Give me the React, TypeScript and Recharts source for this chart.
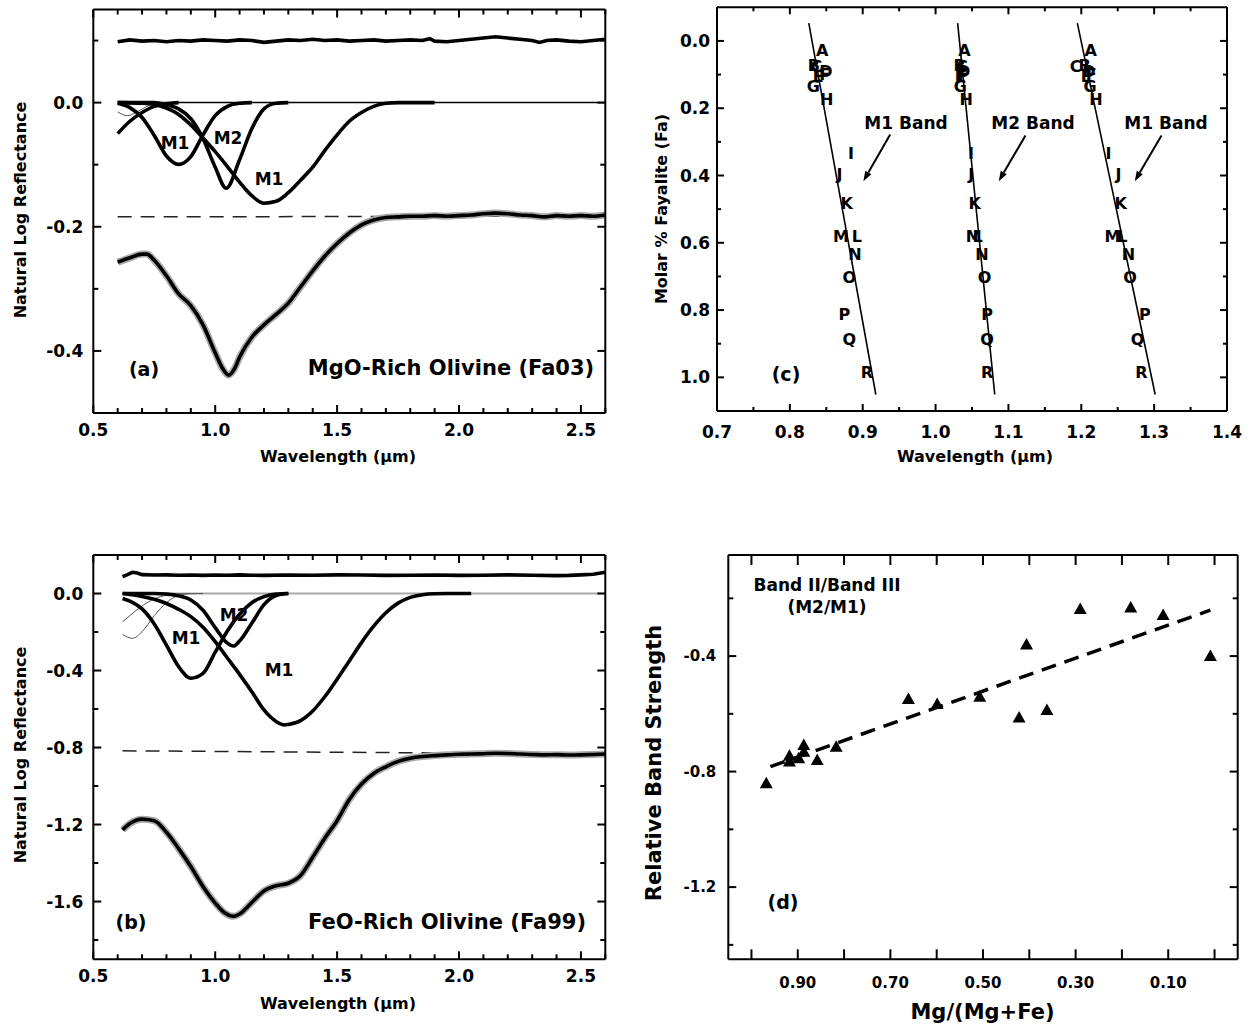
import type { ReactNode } from 'react'
import { ComposedChart, Line, ReferenceLine, Scatter, XAxis, YAxis } from 'recharts'

const FONT = "'DejaVu Sans', 'Liberation Sans', sans-serif"

// ---------- (a) MgO-rich olivine (Fa03) ----------
const aResidWl = [0.6, 0.65, 0.7, 0.75, 0.8, 0.85, 0.9, 0.95, 1.0, 1.05, 1.1, 1.15, 1.2, 1.25, 1.3, 1.35, 1.4, 1.45, 1.5, 1.55, 1.6, 1.65, 1.7, 1.75, 1.8, 1.85, 1.88, 1.9, 1.95, 2.0, 2.05, 2.1, 2.15, 2.2, 2.25, 2.3, 2.33, 2.36, 2.4, 2.45, 2.5, 2.55, 2.6]
const aResidVal = [0.098, 0.101, 0.099, 0.1, 0.098, 0.1, 0.099, 0.101, 0.1, 0.099, 0.101, 0.1, 0.097, 0.099, 0.101, 0.1, 0.102, 0.1, 0.101, 0.099, 0.1, 0.101, 0.099, 0.1, 0.101, 0.1, 0.103, 0.099, 0.098, 0.1, 0.102, 0.104, 0.106, 0.104, 0.102, 0.1, 0.097, 0.1, 0.101, 0.099, 0.098, 0.1, 0.102]
const aContWl = [0.6, 2.6]
const aContVal = [0, 0]
const aBaseVal = [-0.184, -0.183]
const aUvWl = [0.6, 0.65, 0.7, 0.75, 0.8, 0.85]
const aUvVal = [-0.05, -0.03, -0.016, -0.006, -0.002, 0]
const aThinWl = [0.6, 0.64, 0.68, 0.72, 0.76, 0.8]
const aThinVal = [-0.015, -0.021, -0.015, -0.006, -0.001, 0]
const aM1sWl = [0.6, 0.65, 0.7, 0.75, 0.8, 0.85, 0.9, 0.95, 1.0, 1.05, 1.1, 1.15]
const aM1sVal = [-0.001, -0.008, -0.024, -0.053, -0.086, -0.0995, -0.087, -0.052, -0.021, -0.006, -0.001, 0]
const aM2Wl = [0.6, 0.75, 0.8, 0.85, 0.9, 0.95, 1.0, 1.045, 1.1, 1.15, 1.2, 1.25, 1.3]
const aM2Val = [0, 0, -0.004, -0.01, -0.026, -0.058, -0.104, -0.138, -0.092, -0.042, -0.01, -0.001, 0]
const aM1lWl = [0.6, 0.7, 0.75, 0.8, 0.85, 0.9, 0.95, 1.0, 1.05, 1.1, 1.15, 1.2, 1.25, 1.3, 1.35, 1.4, 1.45, 1.5, 1.55, 1.6, 1.65, 1.7, 1.75, 1.9]
const aM1lVal = [0, -0.001, -0.003, -0.009, -0.019, -0.036, -0.057, -0.079, -0.103, -0.128, -0.15, -0.162, -0.159, -0.145, -0.125, -0.104, -0.077, -0.052, -0.03, -0.016, -0.006, -0.001, 0, 0]
const aFitWl = [0.6, 0.65, 0.7, 0.72, 0.75, 0.8, 0.85, 0.9, 0.95, 1.0, 1.03, 1.055, 1.08, 1.1, 1.15, 1.2, 1.25, 1.3, 1.35, 1.4, 1.45, 1.5, 1.55, 1.6, 1.65, 1.7, 1.75, 1.8, 1.85, 1.9, 1.95, 2.0, 2.05, 2.1, 2.15, 2.2, 2.25, 2.3, 2.35, 2.4, 2.45, 2.5, 2.55, 2.6]
const aFitVal = [-0.257, -0.25, -0.244, -0.244, -0.254, -0.279, -0.308, -0.327, -0.358, -0.403, -0.428, -0.439, -0.428, -0.41, -0.378, -0.358, -0.341, -0.323, -0.297, -0.271, -0.247, -0.227, -0.21, -0.197, -0.189, -0.185, -0.184, -0.183, -0.183, -0.182, -0.183, -0.182, -0.181, -0.179, -0.178, -0.179, -0.181, -0.182, -0.184, -0.182, -0.183, -0.182, -0.183, -0.181]

// ---------- (b) FeO-rich olivine (Fa99) ----------
const bResidWl = [0.62, 0.64, 0.66, 0.68, 0.7, 0.75, 0.8, 0.85, 0.9, 0.95, 1.0, 1.05, 1.1, 1.15, 1.2, 1.3, 1.4, 1.5, 1.6, 1.7, 1.8, 1.9, 2.0, 2.1, 2.2, 2.3, 2.4, 2.45, 2.5, 2.55, 2.6]
const bResidVal = [0.088, 0.098, 0.11, 0.106, 0.098, 0.096, 0.097, 0.095, 0.096, 0.094, 0.096, 0.095, 0.097, 0.095, 0.094, 0.096, 0.095, 0.097, 0.096, 0.094, 0.095, 0.096, 0.094, 0.095, 0.097, 0.095, 0.093, 0.094, 0.097, 0.1, 0.11]
const bContWl = [0.62, 2.6]
const bContVal = [0, 0]
const bBaseVal = [-0.817, -0.834]
const bThin1Wl = [0.62, 0.65, 0.7, 0.75, 0.8, 0.85, 0.9]
const bThin1Val = [-0.147, -0.115, -0.065, -0.028, -0.009, -0.002, 0]
const bThin2Wl = [0.62, 0.66, 0.7, 0.75, 0.8, 0.85, 0.9, 0.95]
const bThin2Val = [-0.212, -0.233, -0.198, -0.115, -0.048, -0.01, -0.001, 0]
const bM1sWl = [0.62, 0.65, 0.7, 0.75, 0.8, 0.85, 0.9, 0.95, 1.0, 1.05, 1.1, 1.15, 1.2, 1.25, 1.3]
const bM1sVal = [-0.026, -0.04, -0.08, -0.158, -0.268, -0.38, -0.44, -0.415, -0.305, -0.195, -0.108, -0.048, -0.016, -0.003, 0]
const bM2Wl = [0.62, 0.75, 0.8, 0.85, 0.9, 0.95, 1.0, 1.05, 1.075, 1.1, 1.15, 1.2, 1.25, 1.3]
const bM2Val = [0, 0, -0.003, -0.012, -0.034, -0.087, -0.177, -0.258, -0.273, -0.247, -0.155, -0.058, -0.01, 0]
const bM1lWl = [0.62, 0.7, 0.75, 0.8, 0.85, 0.9, 0.95, 1.0, 1.05, 1.1, 1.15, 1.2, 1.25, 1.285, 1.3, 1.35, 1.4, 1.45, 1.5, 1.55, 1.6, 1.65, 1.7, 1.75, 1.8, 1.85, 1.9, 1.95, 2.05]
const bM1lVal = [0, -0.015, -0.03, -0.052, -0.082, -0.12, -0.175, -0.25, -0.335, -0.42, -0.51, -0.605, -0.665, -0.683, -0.68, -0.66, -0.61, -0.535, -0.445, -0.35, -0.255, -0.17, -0.1, -0.05, -0.02, -0.006, -0.001, 0, 0]
const bFitWl = [0.62, 0.65, 0.7, 0.75, 0.8, 0.85, 0.9, 0.95, 1.0, 1.04, 1.075, 1.1, 1.15, 1.2, 1.25, 1.3, 1.35, 1.4, 1.45, 1.5, 1.55, 1.6, 1.65, 1.7, 1.75, 1.8, 1.85, 1.9, 1.95, 2.0, 2.05, 2.1, 2.15, 2.2, 2.25, 2.3, 2.35, 2.4, 2.45, 2.5, 2.55, 2.6]
const bFitVal = [-1.228, -1.195, -1.172, -1.18, -1.24, -1.325, -1.418, -1.522, -1.608, -1.66, -1.677, -1.665, -1.605, -1.545, -1.518, -1.505, -1.465, -1.37, -1.27, -1.18, -1.07, -0.99, -0.935, -0.9, -0.872, -0.856, -0.847, -0.842, -0.838, -0.835, -0.834, -0.832, -0.83, -0.831, -0.834, -0.836, -0.838, -0.837, -0.839, -0.838, -0.836, -0.834]

// ---------- (c) band centre vs composition ----------
const samples = ['A', 'B', 'C', 'D', 'E', 'F', 'G', 'H', 'I', 'J', 'K', 'L', 'M', 'N', 'O', 'P', 'Q', 'R']
const fayalite = [0.027, 0.074, 0.076, 0.09, 0.105, 0.1, 0.136, 0.1735, 0.334, 0.397, 0.483, 0.58, 0.582, 0.635, 0.704, 0.813, 0.886, 0.985]
const m1ShortWl = [0.8445, 0.8331, 0.8365, 0.8496, 0.839, 0.848, 0.8321, 0.8505, 0.884, 0.868, 0.878, 0.892, 0.87, 0.8895, 0.8817, 0.8748, 0.8817, 0.9056]
const m2BandWl = [1.0395, 1.033, 1.036, 1.0385, 1.034, 1.0377, 1.034, 1.0422, 1.0487, 1.0491, 1.0537, 1.0578, 1.0523, 1.0638, 1.0674, 1.0707, 1.0707, 1.0707]
const m1LongWl = [1.2129, 1.2046, 1.1922, 1.2105, 1.2069, 1.2138, 1.2119, 1.2202, 1.2372, 1.251, 1.2541, 1.2565, 1.2427, 1.2647, 1.267, 1.2872, 1.2771, 1.2826]
const cFitFa = [-0.053, 1.051]
const cFitM1sWl = [0.826, 0.918]
const cFitM2Wl = [1.0303, 1.0812]
const cFitM1lWl = [1.1946, 1.3014]

// ---------- (d) relative band strength ----------
const dMgNumber = [0.968, 0.918, 0.918, 0.898, 0.887, 0.887, 0.858, 0.817, 0.661, 0.599, 0.507, 0.406, 0.422, 0.362, 0.29, 0.181, 0.111, 0.009]
const dStrength = [-0.84, -0.745, -0.765, -0.754, -0.708, -0.731, -0.76, -0.714, -0.549, -0.566, -0.541, -0.36, -0.613, -0.587, -0.237, -0.232, -0.258, -0.4]
const dFitMg = [0.959, 0.009]
const dFitVal = [-0.783, -0.241]

// ---------- ticks ----------
const abXTicks = [0.5, 0.6, 0.7, 0.8, 0.9, 1.0, 1.1, 1.2, 1.3, 1.4, 1.5, 1.6, 1.7, 1.8, 1.9, 2.0, 2.1, 2.2, 2.3, 2.4, 2.5, 2.6]
const abXLabels = [0.5, 1.0, 1.5, 2.0, 2.5]
const aYTicks = [-0.5, -0.4, -0.3, -0.2, -0.1, 0, 0.1]
const aYLabels = [-0.4, -0.2, 0]
const bYTicks = [-1.8, -1.6, -1.4, -1.2, -1.0, -0.8, -0.6, -0.4, -0.2, 0]
const bYLabels = [-1.6, -1.2, -0.8, -0.4, 0]
const cXTicks = [0.7, 0.75, 0.8, 0.85, 0.9, 0.95, 1.0, 1.05, 1.1, 1.15, 1.2, 1.25, 1.3, 1.35, 1.4]
const cXLabels = [0.7, 0.8, 0.9, 1.0, 1.1, 1.2, 1.3, 1.4]
const cYTicks = [0, 0.1, 0.2, 0.3, 0.4, 0.5, 0.6, 0.7, 0.8, 0.9, 1.0]
const cYLabels = [0, 0.2, 0.4, 0.6, 0.8, 1.0]
const dXTicks = [0, 0.1, 0.2, 0.3, 0.4, 0.5, 0.6, 0.7, 0.8, 0.9, 1.0]
const dXLabels = [0.9, 0.7, 0.5, 0.3, 0.1]
const dYTicks = [-1.4, -1.2, -1.0, -0.8, -0.6, -0.4, -0.2]
const dYLabels = [-1.2, -0.8, -0.4]

type Pt = { x: number; y: number; label?: string }
const zip = (xs: number[], ys: number[]): Pt[] => xs.map((x, i) => ({ x, y: ys[i] }))
const lettered = (wl: number[]): Pt[] => samples.map((s, i) => ({ x: wl[i], y: fayalite[i], label: s }))

type Side = 'bottom' | 'top' | 'left' | 'right'
type TickOpt = { labels: number[]; digits: number; major: number; minor: number; gap: number; size: number }

// ticks point into the plot, labels sit outside
function tick(side: Side, o: TickOpt, text = true) {
  return (p: any) => {
    const v = Number(p.payload.value)
    const isMajor = o.labels.some((l) => Math.abs(l - v) < 1e-6)
    const len = isMajor ? o.major : o.minor
    const { x, y } = p
    const dx = side === 'left' ? len : side === 'right' ? -len : 0
    const dy = side === 'bottom' ? -len : side === 'top' ? len : 0
    const vert = side === 'left' || side === 'right'
    return (
      <g>
        <line x1={x} y1={y} x2={x + dx} y2={y + dy} stroke="#000" strokeWidth={2} />
        {text && isMajor && (
          <text
            x={vert ? x - o.gap : x}
            y={vert ? y : y + o.gap}
            textAnchor={vert ? 'end' : 'middle'}
            dominantBaseline="central"
            fontFamily={FONT}
            fontWeight="bold"
            fontSize={o.size}
            fill="#000"
          >
            {v.toFixed(o.digits)}
          </text>
        )}
      </g>
    )
  }
}

const AXIS = { stroke: '#000', strokeWidth: 2 }

type PanelProps = {
  pos: [number, number]
  size: [number, number]
  margin: { top: number; right: number; bottom: number; left: number }
  yWidth: number
  xDomain: [number, number]
  yDomain: [number, number]
  xTicks: number[]
  yTicks: number[]
  xOpt: TickOpt
  yOpt: TickOpt
  xRev?: boolean
  yRev?: boolean
  children: ReactNode
}

function Panel(p: PanelProps) {
  const common = { type: 'number' as const, allowDataOverflow: true, interval: 0 as const, tickSize: 0, tickMargin: 0, tickLine: false, axisLine: AXIS }
  // the mirror axes take 1px each, so the margin gives that pixel back
  const m = { ...p.margin, top: p.margin.top - 1, right: p.margin.right - 1 }
  return (
    <div style={{ position: 'absolute', left: p.pos[0], top: p.pos[1] }}>
      <ComposedChart width={p.size[0]} height={p.size[1]} margin={m}>
        <XAxis {...common} xAxisId={0} dataKey="x" domain={p.xDomain} ticks={p.xTicks} reversed={p.xRev} height={40} tick={tick('bottom', p.xOpt)} />
        <XAxis {...common} xAxisId="top" orientation="top" dataKey="x" domain={p.xDomain} ticks={p.xTicks} reversed={p.xRev} height={1} tick={tick('top', p.xOpt, false)} />
        <YAxis {...common} yAxisId={0} dataKey="y" domain={p.yDomain} ticks={p.yTicks} reversed={p.yRev} width={p.yWidth} tick={tick('left', p.yOpt)} />
        <YAxis {...common} yAxisId="right" orientation="right" dataKey="y" domain={p.yDomain} ticks={p.yTicks} reversed={p.yRev} width={1} tick={tick('right', p.yOpt, false)} />
        {p.children}
      </ComposedChart>
    </div>
  )
}

function curve(key: string, data: Pt[], width: number, opts: { color?: string; dash?: string; linear?: boolean } = {}) {
  return (
    <Line
      key={key}
      data={data}
      dataKey="y"
      type={opts.linear ? 'linear' : 'monotone'}
      stroke={opts.color ?? '#000'}
      strokeWidth={width}
      strokeDasharray={opts.dash}
      dot={false}
      activeDot={false}
      isAnimationActive={false}
    />
  )
}

const Letter = (p: any) => (
  <text x={p.cx} y={p.cy} textAnchor="middle" dominantBaseline="central" fontFamily={FONT} fontWeight="bold" fontSize={16} fill="#000">
    {p.payload.label}
  </text>
)

const Triangle = (p: any) => (
  <polygon points={`${p.cx},${p.cy - 6.5} ${p.cx - 6.5},${p.cy + 5} ${p.cx + 6.5},${p.cy + 5}`} fill="#000" />
)

const Arrow = (p: any) => {
  const { x1, y1, x2, y2 } = p
  const dx = x2 - x1
  const dy = y2 - y1
  const L = Math.hypot(dx, dy) || 1
  const ux = dx / L
  const uy = dy / L
  const bx = x2 - ux * 10
  const by = y2 - uy * 10
  return (
    <g>
      <line x1={x1} y1={y1} x2={bx} y2={by} stroke="#000" strokeWidth={2} />
      <polygon points={`${x2},${y2} ${bx - uy * 3.5},${by + ux * 3.5} ${bx + uy * 3.5},${by - ux * 3.5}`} fill="#000" />
    </g>
  )
}

function T({ x, y, s, rot, children }: { x: number; y: number; s: number; rot?: boolean; children: ReactNode }) {
  return (
    <div
      style={{
        position: 'absolute',
        left: x,
        top: y,
        transform: `translate(-50%, -50%)${rot ? ' rotate(-90deg)' : ''}`,
        fontFamily: FONT,
        fontWeight: 'bold',
        fontSize: s,
        lineHeight: 1,
        whiteSpace: 'nowrap',
        color: '#000',
      }}
    >
      {children}
    </div>
  )
}

const abX: TickOpt = { labels: abXLabels, digits: 1, major: 8, minor: 5, gap: 17, size: 17 }
const W = 3.6

export default function App() {
  return (
    <div style={{ position: 'absolute', left: 0, top: 0, width: 1251, height: 1027, background: '#fff', overflow: 'hidden' }}>
      <Panel
        pos={[0, 0]}
        size={[620, 480]}
        margin={{ top: 9.5, right: 14.7, bottom: 27, left: 0 }}
        yWidth={93.3}
        xDomain={[0.5, 2.6]}
        yDomain={[-0.5, 0.15]}
        xTicks={abXTicks}
        yTicks={aYTicks}
        xOpt={abX}
        yOpt={{ labels: aYLabels, digits: 1, major: 8, minor: 5, gap: 10, size: 17 }}
      >
        {curve('resid', zip(aResidWl, aResidVal), W, { linear: true })}
        {curve('cont', zip(aContWl, aContVal), 1.5, { linear: true })}
        {curve('thin', zip(aThinWl, aThinVal), 1, { color: '#555' })}
        {curve('uv', zip(aUvWl, aUvVal), W)}
        {curve('m1s', zip(aM1sWl, aM1sVal), W)}
        {curve('m2', zip(aM2Wl, aM2Val), W)}
        {curve('m1l', zip(aM1lWl, aM1lVal), W)}
        {curve('base', zip(aContWl, aBaseVal), 1.5, { color: '#222', dash: '14 9', linear: true })}
        {curve('halo', zip(aFitWl, aFitVal), 7, { color: '#aaa' })}
        {curve('fit', zip(aFitWl, aFitVal), W)}
      </Panel>

      <Panel
        pos={[0, 540]}
        size={[620, 487]}
        margin={{ top: 15, right: 14.7, bottom: 27.7, left: 0 }}
        yWidth={93.3}
        xDomain={[0.5, 2.6]}
        yDomain={[-1.9, 0.2]}
        xTicks={abXTicks}
        yTicks={bYTicks}
        xOpt={abX}
        yOpt={{ labels: bYLabels, digits: 1, major: 8, minor: 5, gap: 10, size: 17 }}
      >
        {curve('resid', zip(bResidWl, bResidVal), W, { linear: true })}
        {curve('cont', zip(bContWl, bContVal), 2, { color: '#aaa', linear: true })}
        {curve('thin1', zip(bThin1Wl, bThin1Val), 1, { color: '#555' })}
        {curve('thin2', zip(bThin2Wl, bThin2Val), 1, { color: '#555' })}
        {curve('m1s', zip(bM1sWl, bM1sVal), W)}
        {curve('m2', zip(bM2Wl, bM2Val), W)}
        {curve('m1l', zip(bM1lWl, bM1lVal), W)}
        {curve('base', zip(bContWl, bBaseVal), 1.5, { color: '#222', dash: '14 9', linear: true })}
        {curve('halo', zip(bFitWl, bFitVal), 7, { color: '#aaa' })}
        {curve('fit', zip(bFitWl, bFitVal), W)}
      </Panel>

      <Panel
        pos={[620, 0]}
        size={[631, 480]}
        margin={{ top: 7.3, right: 24, bottom: 29, left: 0 }}
        yWidth={97}
        xDomain={[0.7, 1.4]}
        yDomain={[-0.1, 1.1]}
        yRev
        xTicks={cXTicks}
        yTicks={cYTicks}
        xOpt={{ labels: cXLabels, digits: 1, major: 7, minor: 4, gap: 21, size: 17 }}
        yOpt={{ labels: cYLabels, digits: 1, major: 7, minor: 4, gap: 7, size: 17 }}
      >
        {curve('f1', zip(cFitM1sWl, cFitFa), 1.6, { linear: true })}
        {curve('f2', zip(cFitM2Wl, cFitFa), 1.6, { linear: true })}
        {curve('f3', zip(cFitM1lWl, cFitFa), 1.6, { linear: true })}
        <Scatter data={lettered(m1ShortWl)} dataKey="y" shape={Letter} isAnimationActive={false} />
        <Scatter data={lettered(m2BandWl)} dataKey="y" shape={Letter} isAnimationActive={false} />
        <Scatter data={lettered(m1LongWl)} dataKey="y" shape={Letter} isAnimationActive={false} />
        <ReferenceLine segment={[{ x: 0.9377, y: 0.278 }, { x: 0.9009, y: 0.417 }]} shape={Arrow} ifOverflow="visible" />
        <ReferenceLine segment={[{ x: 1.1234, y: 0.281 }, { x: 1.0867, y: 0.417 }]} shape={Arrow} ifOverflow="visible" />
        <ReferenceLine segment={[{ x: 1.3101, y: 0.281 }, { x: 1.2734, y: 0.417 }]} shape={Arrow} ifOverflow="visible" />
      </Panel>

      <Panel
        pos={[620, 540]}
        size={[631, 487]}
        margin={{ top: 15, right: 13.3, bottom: 27.7, left: 0 }}
        yWidth={108.3}
        xDomain={[-0.05, 1.05]}
        xRev
        yDomain={[-1.45, -0.05]}
        xTicks={dXTicks}
        yTicks={dYTicks}
        xOpt={{ labels: dXLabels, digits: 2, major: 10, minor: 10, gap: 24, size: 15 }}
        yOpt={{ labels: dYLabels, digits: 1, major: 8, minor: 5, gap: 12, size: 15 }}
      >
        {curve('fit', zip(dFitMg, dFitVal), 3.5, { dash: '15 9', linear: true })}
        <Scatter data={zip(dMgNumber, dStrength)} dataKey="y" shape={Triangle} isAnimationActive={false} />
      </Panel>

      {/* axis titles */}
      <T x={20.7} y={210} s={16} rot>Natural Log Reflectance</T>
      <T x={338} y={457} s={16}>Wavelength (µm)</T>
      <T x={20.7} y={755} s={16} rot>Natural Log Reflectance</T>
      <T x={338} y={1004} s={16}>Wavelength (µm)</T>
      <T x={661.7} y={209} s={16} rot>Molar % Fayalite (Fa)</T>
      <T x={975} y={457} s={16}>Wavelength (µm)</T>
      <T x={654} y={762.5} s={21} rot>Relative Band Strength</T>
      <T x={982.5} y={1012} s={21}>Mg/(Mg+Fe)</T>

      {/* in-plot annotations */}
      <T x={175} y={143} s={17}>M1</T>
      <T x={228} y={138} s={17}>M2</T>
      <T x={269} y={179} s={17}>M1</T>
      <T x={144} y={369} s={19}>(a)</T>
      <T x={451} y={368} s={21}>MgO-Rich Olivine (Fa03)</T>

      <T x={186} y={638} s={17}>M1</T>
      <T x={234} y={615} s={17}>M2</T>
      <T x={279} y={670} s={17}>M1</T>
      <T x={131} y={922} s={19}>(b)</T>
      <T x={447} y={922} s={21}>FeO-Rich Olivine (Fa99)</T>

      <T x={906} y={123} s={17}>M1 Band</T>
      <T x={1033} y={123} s={17}>M2 Band</T>
      <T x={1166} y={123} s={17}>M1 Band</T>
      <T x={786} y={374} s={19}>(c)</T>

      <T x={827} y={585} s={17}>Band II/Band III</T>
      <T x={827} y={607} s={17}>(M2/M1)</T>
      <T x={783} y={902} s={19}>(d)</T>
    </div>
  )
}
